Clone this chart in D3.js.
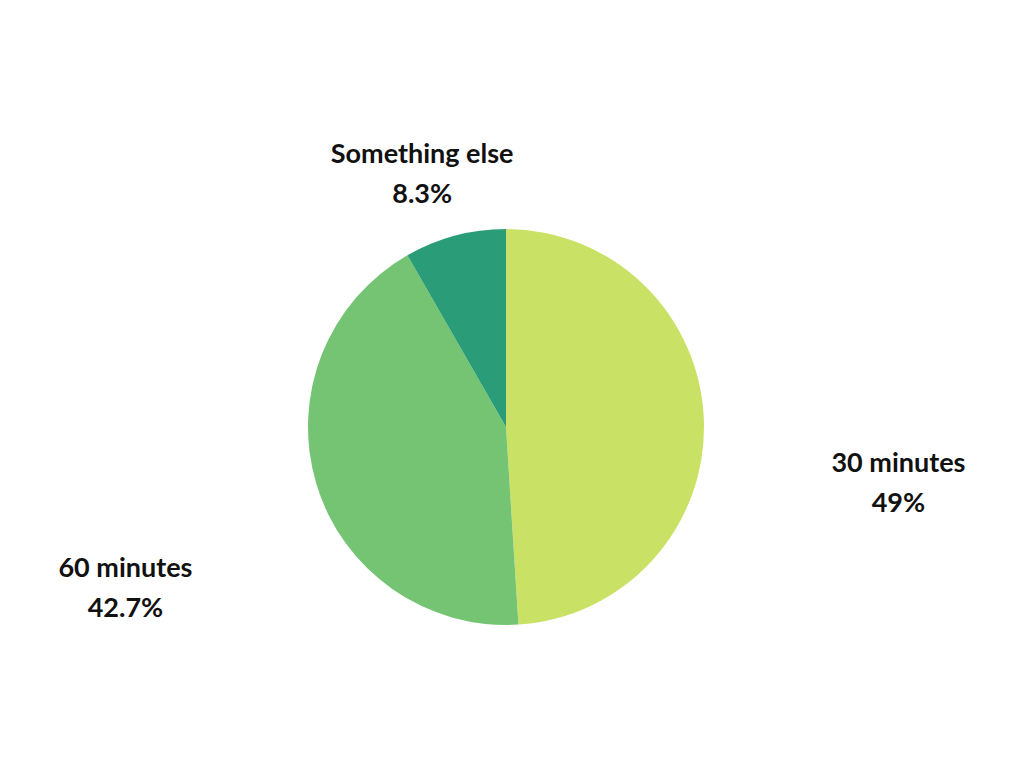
<!DOCTYPE html>
<html lang="en">
  <head>
    <meta charset="utf-8">
    <title>Pie</title>
    <script src="https://cdn.jsdelivr.net/npm/d3@7"></script>
    <style>
      body { margin: 0; background: #fff; }
      text { font-family: Lato, "Noto Sans", sans-serif; font-weight: 700; fill: #111; }
    </style>
  </head>
  <body>
    <script>
      // Data
      var categories = ["30 minutes", "60 minutes", "Something else"];
      var values = [49, 42.7, 8.3];
      var labels = ["49%", "42.7%", "8.3%"];
      var colors = ["#c9e265", "#75c473", "#2a9d78"];

      var width = 1024, height = 768;
      var cx = 506, cy = 427, r = 198;

      var svg = d3.select("body").append("svg")
                  .attr("width", width)
                  .attr("height", height);

      var g = svg.append("g")
                 .attr("transform", "translate(" + cx + "," + cy + ")");

      var pie = d3.pie().sort(null).value(function(d) { return d; });
      var arcs = pie(values);
      var arc = d3.arc().innerRadius(0).outerRadius(r);

      g.selectAll("path")
        .data(arcs)
        .enter()
        .append("path")
        .attr("d", arc)
        .attr("fill", function(d, i) { return colors[i]; });

      // Labels outside the pie
      var label = g.selectAll("g.label")
                   .data(arcs)
                   .enter()
                   .append("g")
                   .attr("class", "label")
                   .attr("transform", function(d) {
                     var a = (d.startAngle + d.endAngle) / 2;
                     var x = r * 1.98 * Math.sin(a) + r * 0.09 * Math.cos(a);
                     var y = -r * 1.67 * Math.cos(a) + r / 3;
                     return "translate(" + x + "," + y + ")";
                   });

      label.append("text")
        .attr("text-anchor", "middle")
        .attr("y", -11)
        .attr("font-size", 27)
        .text(function(d, i) { return categories[i]; });

      label.append("text")
        .attr("text-anchor", "middle")
        .attr("y", 29)
        .attr("font-size", 27)
        .text(function(d, i) { return labels[i]; });
    </script>
  </body>
</html>
